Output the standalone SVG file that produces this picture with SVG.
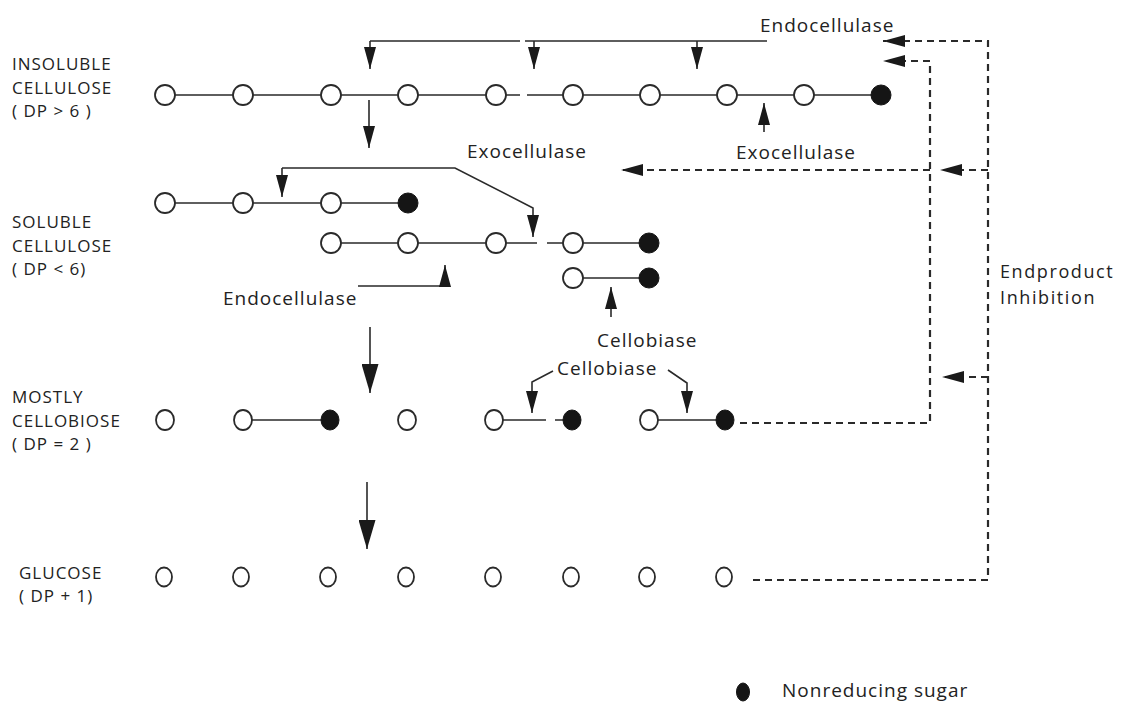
<svg xmlns="http://www.w3.org/2000/svg" width="1124" height="703" viewBox="0 0 1124 703">
<style>
text{font-family:"Open Sans","Liberation Sans",sans-serif;font-size:19px;fill:#222}
.lab{letter-spacing:1px}
.side{font-size:17px;letter-spacing:1px}
.ep{font-size:18px;letter-spacing:1.6px}
.ln{stroke:#2a2a2a;stroke-width:1.6;fill:none}
.dl{stroke:#2a2a2a;stroke-width:2.2;fill:none;stroke-dasharray:7 5}
.o{fill:#fff;stroke:#2a2a2a;stroke-width:1.8}
.f{fill:#151515;stroke:#151515;stroke-width:1}
</style>
<defs>
<marker id="ah" markerUnits="userSpaceOnUse" markerWidth="22" markerHeight="12" refX="22" refY="6" orient="auto"><path d="M0,0 L22,6 L0,12 Z" fill="#1a1a1a"/></marker>
<marker id="big" markerUnits="userSpaceOnUse" markerWidth="29" markerHeight="17" refX="29" refY="8.5" orient="auto"><path d="M0,0 L29,8.5 L0,17 Z" fill="#1a1a1a"/></marker>
</defs>
<rect width="1124" height="703" fill="#fff"/>

<g id="labels-left">
<text class="side" x="12" y="70">INSOLUBLE</text>
<text class="side" x="12" y="94">CELLULOSE</text>
<text class="side" x="12" y="117">( DP &gt; 6 )</text>
<text class="side" x="12" y="228">SOLUBLE</text>
<text class="side" x="12" y="252">CELLULOSE</text>
<text class="side" x="12" y="275">( DP &lt; 6)</text>
<text class="side" x="12" y="403">MOSTLY</text>
<text class="side" x="12" y="427">CELLOBIOSE</text>
<text class="side" x="12" y="450">( DP = 2 )</text>
<text class="side" x="19" y="579">GLUCOSE</text>
<text class="side" x="19" y="602">( DP + 1)</text>
</g>

<g id="connectors">
<path class="ln" d="M165,95 H520 M527,95 H882"/>
<path class="ln" d="M165,203 H408"/>
<path class="ln" d="M331,243 H537 M547,243 H649"/>
<path class="ln" d="M573,278 H649"/>
<path class="ln" d="M243,420 H331 M493,420 H546 M555,420 H572 M649,420 H725"/>
<path class="ln" d="M370,41 H520 M525,41 H767"/>
<path class="ln" d="M370,41 V69" marker-end="url(#ah)"/>
<path class="ln" d="M534,41 V69" marker-end="url(#ah)"/>
<path class="ln" d="M697,41 V69" marker-end="url(#ah)"/>
<path class="ln" d="M369,100 V148" marker-end="url(#ah)"/>
<path class="ln" d="M764,132 V103" marker-end="url(#ah)"/>
<path class="ln" d="M282,168 H455 L533,208 V237" marker-end="url(#ah)"/>
<path class="ln" d="M282,168 V197" marker-end="url(#ah)"/>
<path class="ln" d="M358,286 H445 V265" marker-end="url(#ah)"/>
<path class="ln" d="M611,317 V287" marker-end="url(#ah)"/>
<path class="ln" d="M553,371 L532,382 V413" marker-end="url(#ah)"/>
<path class="ln" d="M668,370 L687,383 V413" marker-end="url(#ah)"/>
<path class="ln" d="M370,327 V393" marker-end="url(#big)"/>
<path class="ln" d="M367,482 V549" marker-end="url(#big)"/>
<path class="dl" d="M753,580 H988 V41 H883" marker-end="url(#ah)"/>
<path class="dl" d="M740,423 H930 V61 H883" marker-end="url(#ah)"/>
<path class="dl" d="M930,170 H621" marker-end="url(#ah)"/>
<path class="dl" d="M988,170 H940" marker-end="url(#ah)"/>
<path class="dl" d="M988,377 H942" marker-end="url(#ah)"/>
</g>

<g id="insoluble">
<circle class="o" cx="165" cy="95" r="10"/>
<circle class="o" cx="243" cy="95" r="10"/>
<circle class="o" cx="331" cy="95" r="10"/>
<circle class="o" cx="408" cy="95" r="10"/>
<circle class="o" cx="496" cy="95" r="10"/>
<circle class="o" cx="573" cy="95" r="10"/>
<circle class="o" cx="650" cy="95" r="10"/>
<circle class="o" cx="727" cy="95" r="10"/>
<circle class="o" cx="804" cy="95" r="10"/>
<circle class="f" cx="881" cy="95" r="10"/>
</g>

<g id="soluble">
<circle class="o" cx="165" cy="203" r="10"/>
<circle class="o" cx="243" cy="203" r="10"/>
<circle class="o" cx="331" cy="203" r="10"/>
<circle class="f" cx="408" cy="203" r="10"/>
<circle class="o" cx="331" cy="243" r="10"/>
<circle class="o" cx="408" cy="243" r="10"/>
<circle class="o" cx="496" cy="243" r="10"/>
<circle class="o" cx="573" cy="243" r="10"/>
<circle class="f" cx="649" cy="243" r="10"/>
<circle class="o" cx="573" cy="278" r="10"/>
<circle class="f" cx="649" cy="278" r="10"/>
</g>

<g id="cellobiose">
<ellipse class="o" cx="165" cy="420" rx="9" ry="10"/>
<ellipse class="o" cx="243" cy="420" rx="9" ry="10"/>
<ellipse class="f" cx="330" cy="420" rx="9" ry="10"/>
<ellipse class="o" cx="407" cy="420" rx="9" ry="10"/>
<ellipse class="o" cx="494" cy="420" rx="9" ry="10"/>
<ellipse class="f" cx="572" cy="420" rx="9" ry="10"/>
<ellipse class="o" cx="649" cy="420" rx="9" ry="10"/>
<ellipse class="f" cx="725" cy="420" rx="9" ry="10"/>
</g>

<g id="glucose">
<ellipse class="o" cx="164" cy="577" rx="8" ry="9.5"/>
<ellipse class="o" cx="241" cy="577" rx="8" ry="9.5"/>
<ellipse class="o" cx="328" cy="577" rx="8" ry="9.5"/>
<ellipse class="o" cx="406" cy="577" rx="8" ry="9.5"/>
<ellipse class="o" cx="493" cy="577" rx="8" ry="9.5"/>
<ellipse class="o" cx="571" cy="577" rx="8" ry="9.5"/>
<ellipse class="o" cx="647" cy="577" rx="8" ry="9.5"/>
<ellipse class="o" cx="724" cy="577" rx="8" ry="9.5"/>
</g>

<g id="enzyme-labels">
<text class="lab" x="760" y="32">Endocellulase</text>
<text class="lab" x="467" y="158">Exocellulase</text>
<text class="lab" x="736" y="159">Exocellulase</text>
<text class="lab" x="223" y="305">Endocellulase</text>
<text class="lab" x="597" y="347">Cellobiase</text>
<text class="lab" x="557" y="375">Cellobiase</text>
<text class="ep" x="1000" y="278">Endproduct</text>
<text class="ep" x="1000" y="304">Inhibition</text>
</g>

<g id="legend">
<ellipse class="f" cx="743" cy="692" rx="6.5" ry="9"/>
<text class="lab" x="782" y="697">Nonreducing sugar</text>
</g>
</svg>
